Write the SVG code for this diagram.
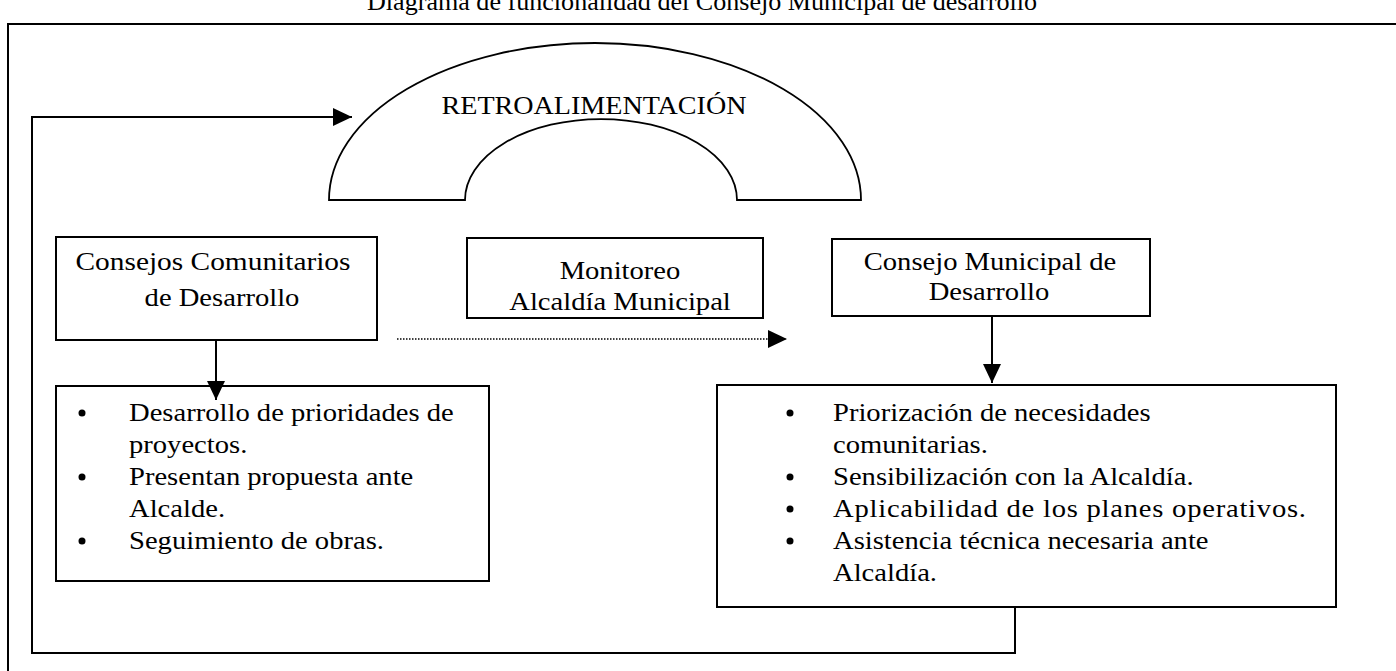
<svg xmlns="http://www.w3.org/2000/svg" width="1396" height="671" viewBox="0 0 1396 671">
<defs>
<style>
.t{font-family:"Liberation Serif","Times New Roman",serif;font-size:26px;fill:#000}
.c{text-anchor:middle}
.box{fill:#fff;stroke:#000;stroke-width:2}
.ln{fill:none;stroke:#000;stroke-width:2}
.dot{fill:none;stroke:#000;stroke-width:1.6;stroke-dasharray:1.5 1.5}
</style>
<marker id="ah" markerUnits="userSpaceOnUse" markerWidth="20" markerHeight="20" refX="19" refY="9" orient="auto">
<path d="M0,0 L19,9 L0,18 Z" fill="#000"/>
</marker>
</defs>
<rect width="1396" height="671" fill="#fff"/>
<text class="t c" x="702" y="10" textLength="670" lengthAdjust="spacingAndGlyphs">Diagrama de funcionalidad del Consejo Municipal de desarrollo</text>
<rect x="8" y="24" width="1400" height="660" fill="none" stroke="#000" stroke-width="2"/>

<g id="retroalimentacion">
<path d="M329,200 A266,157 0 0 1 861,200 L737,200 A136,81 0 0 0 465,200 Z" fill="#fff" stroke="#000" stroke-width="1.8"/>
<text class="t c" x="594" y="114" textLength="305" lengthAdjust="spacingAndGlyphs">RETROALIMENTACIÓN</text>
</g>

<g id="consejos-comunitarios">
<rect class="box" x="56" y="237" width="321" height="103"/>
<text class="t c" transform="translate(213,270) scale(1.13,1)">Consejos  Comunitarios</text>
<text class="t c" transform="translate(222,306) scale(1.1,1)">de Desarrollo</text>
</g>

<g id="monitoreo">
<rect class="box" x="467" y="238" width="296" height="80"/>
<text class="t c" transform="translate(620,279) scale(1.1,1)">Monitoreo</text>
<text class="t c" transform="translate(620,310) scale(1.1,1)">Alcaldía Municipal</text>
</g>

<g id="consejo-municipal">
<rect class="box" x="832" y="239" width="318" height="77"/>
<text class="t c" transform="translate(990,270) scale(1.1,1)">Consejo Municipal de</text>
<text class="t c" transform="translate(989,300) scale(1.1,1)">Desarrollo</text>
</g>

<g id="lista-comunitarios">
<rect class="box" x="56" y="386" width="433" height="195"/>
<g fill="#000"><circle cx="82" cy="413" r="3.5"/><circle cx="82" cy="477" r="3.5"/><circle cx="82" cy="541" r="3.5"/></g>
<text class="t" transform="translate(129,421) scale(1.1,1)">Desarrollo de prioridades de</text>
<text class="t" transform="translate(129,453) scale(1.1,1)">proyectos.</text>
<text class="t" transform="translate(129,485) scale(1.1,1)">Presentan propuesta ante</text>
<text class="t" transform="translate(129,517) scale(1.1,1)">Alcalde.</text>
<text class="t" transform="translate(129,549) scale(1.1,1)">Seguimiento de obras.</text>
</g>

<g id="lista-municipal">
<rect class="box" x="717" y="385" width="619" height="222"/>
<g fill="#000"><circle cx="790" cy="413" r="3.5"/><circle cx="790" cy="477" r="3.5"/><circle cx="790" cy="509" r="3.5"/><circle cx="790" cy="541" r="3.5"/></g>
<text class="t" transform="translate(833,421) scale(1.1,1)">Priorización de necesidades</text>
<text class="t" transform="translate(833,453) scale(1.1,1)">comunitarias.</text>
<text class="t" transform="translate(833,485) scale(1.1,1)">Sensibilización con la Alcaldía.</text>
<text class="t" transform="translate(833,517) scale(1.1,1)" textLength="430" lengthAdjust="spacing">Aplicabilidad de los planes operativos.</text>
<text class="t" transform="translate(833,549) scale(1.1,1)">Asistencia técnica necesaria ante</text>
<text class="t" transform="translate(833,581) scale(1.1,1)">Alcaldía.</text>
</g>

<g id="connectors">
<path class="ln" d="M216,340 V400" marker-end="url(#ah)"/>
<path class="ln" d="M992,316 V383" marker-end="url(#ah)"/>
<path class="dot" d="M397,339 H787" marker-end="url(#ah)"/>
<path class="ln" d="M1015,607 V653 H32 V117 H352" marker-end="url(#ah)"/>
</g>
</svg>
